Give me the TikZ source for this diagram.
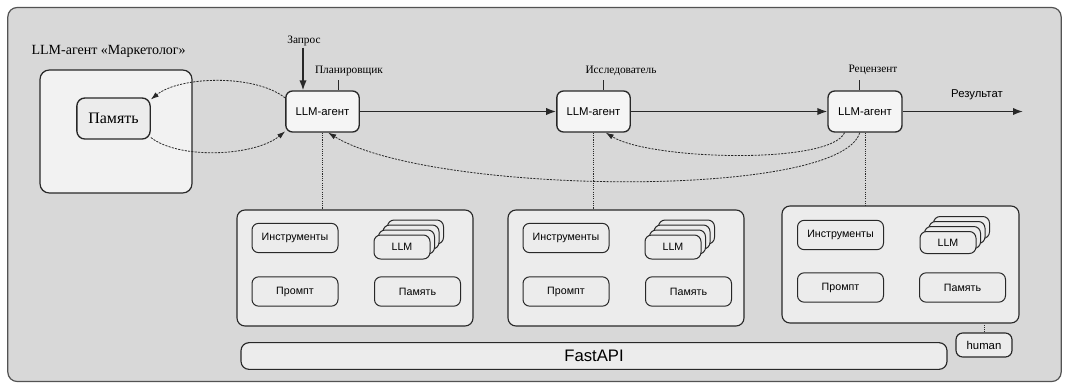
\documentclass[tikz,border=0pt]{standalone}
\usepackage{fontspec}
\setmainfont{Liberation Serif}
\setsansfont{Liberation Sans}
\usetikzlibrary{arrows.meta}
\definecolor{bggray}{RGB}{216,216,216}
\definecolor{boxfill}{RGB}{236,236,236}
\definecolor{agentfill}{RGB}{245,245,245}
\definecolor{linecol}{RGB}{40,40,40}
\begin{document}
\begin{tikzpicture}[x=0.75pt,y=-0.75pt,
  frame/.style={draw=linecol!80, line width=0.9pt, rounded corners=7pt, fill=bggray},
  agent/.style={draw=linecol, line width=1pt, rounded corners=5pt, fill=agentfill,
    minimum width=55pt, minimum height=30.75pt, inner sep=0pt,
    font=\sffamily\fontsize{8.5}{10}\selectfont},
  tool/.style={draw=linecol, line width=0.75pt, rounded corners=5pt, fill=boxfill,
    minimum width=64.5pt, minimum height=22pt, inner sep=0pt,
    font=\sffamily\fontsize{8}{9.6}\selectfont},
  llmbox/.style={draw=linecol, line width=0.75pt, rounded corners=5pt, fill=boxfill,
    minimum width=42pt, minimum height=18pt, inner sep=0pt,
    font=\sffamily\fontsize{8}{9.6}\selectfont},
  group/.style={draw=linecol, line width=0.85pt, rounded corners=6pt, fill=boxfill,
    minimum width=177pt, minimum height=87pt, inner sep=0pt},
  lbl/.style={font=\fontsize{8.5}{10}\selectfont, inner sep=1pt},
  flow/.style={-{Latex[length=7.5pt,width=5.5pt]}, line width=1.1pt, draw=linecol},
  fb/.style={-{Latex[length=6pt,width=4pt]}, dash pattern=on 1.6pt off 0.9pt, line width=0.6pt, draw=linecol},
  link/.style={dash pattern=on 0.8pt off 0.9pt, line width=0.6pt, draw=linecol},
  tick/.style={line width=0.7pt, draw=linecol}]
\useasboundingbox (0,0) rectangle (1065,386);

% outer frame
\node[frame, minimum width=790pt, minimum height=280.5pt, inner sep=0pt] (outer) at (534.5,194.5) {};

% left agent "Marketer"
\node[lbl, font=\fontsize{10.5}{12}\selectfont, anchor=west] (title) at (30,51) {LLM-агент «Маркетолог»};
\node[draw=linecol, line width=0.9pt, rounded corners=7pt, fill=boxfill!70!white,
      minimum width=114pt, minimum height=92.25pt, inner sep=0pt] (leftbox) at (116,131.5) {};
\node[draw=linecol, line width=1pt, rounded corners=6pt, fill=boxfill,
      minimum width=55pt, minimum height=30.75pt, inner sep=0pt,
      font=\fontsize{12}{14}\selectfont] (mem) at (113.5,118.5) {Память};

% agents
\node[agent] (pl) at (322.5,111.5) {LLM-агент};
\node[agent] (re) at (593.5,111.5) {LLM-агент};
\node[agent, minimum width=55.5pt] (rv) at (865,111.5) {LLM-агент};

% labels
\node[lbl] (zap) at (304,41) {Запрос};
\node[lbl] (plab) at (349,71) {Планировщик};
\node[lbl] (rlab) at (621,71) {Исследователь};
\node[lbl] (vlab) at (873,70) {Рецензент};
\node[lbl, font=\sffamily\fontsize{8.5}{10}\selectfont] (reslab) at (977,95) {Результат};

\coordinate (plt) at (338,80);
\coordinate (ret) at (603,80);
\coordinate (rvt) at (859,80);
\coordinate (resend) at (1023,111.5);

\draw[tick] (plt) -- (plt |- pl.north);
\draw[tick] (ret) -- (ret |- re.north);
\draw[tick] (rvt) -- (rvt |- rv.north);

% main flow
\draw[flow] (zap.south -| 303,0) -- (303,0 |- pl.north);
\draw[flow] (pl.east) -- (re.west);
\draw[flow] (re.east) -- (rv.west);
\draw[flow] (rv.east) -- (resend);

% memory loop
\draw[fb] (pl.160) .. controls (255,74) and (180,76) .. (mem.27);
\draw[fb] (mem.-27) .. controls (180,160) and (255,156) .. (pl.208);

% feedback
\draw[fb] (rv.226) .. controls (830,165) and (650,160) .. (re.-60);
\draw[fb] (rv.256) .. controls (840,200) and (430,195) .. (pl.-75);

% tool groups
\node[group] (g1) at (355,268) {};
\node[group] (g2) at (626,268) {};
\node[group, minimum width=177.75pt, minimum height=87.75pt] (g3) at (900.5,264.5) {};

\draw[link] (pl.south) -- (pl.south |- g1.north);
\draw[link] (re.south) -- (re.south |- g2.north);
\draw[link] (rv.south) -- (rv.south |- g3.north);

% group 1
\node[tool] (i1) at (295,238) {Инструменты};
\node[tool] (p1) at (295,291.5) {Промпт};
\node[tool] (m1) at (417.5,291.5) {Память};
\node[llmbox] (l1c) at (415.5,232) {};
\node[llmbox] (l1b) at (411,237) {};
\node[llmbox] (l1a) at (406.5,242) {};
\node[llmbox] (l1) at (402,247) {LLM};

% group 2
\node[tool] (i2) at (566,238) {Инструменты};
\node[tool] (p2) at (566,291.5) {Промпт};
\node[tool] (m2) at (688.5,291.5) {Память};
\node[llmbox] (l2c) at (686.5,232) {};
\node[llmbox] (l2b) at (682,237) {};
\node[llmbox] (l2a) at (677.5,242) {};
\node[llmbox] (l2) at (673,247) {LLM};

% group 3
\node[tool] (i3) at (840.5,235) {Инструменты};
\node[tool] (p3) at (840.5,287.5) {Промпт};
\node[tool] (m3) at (962.5,287.5) {Память};
\node[llmbox, minimum height=16.5pt] (l3c) at (961.5,227.5) {};
\node[llmbox, minimum height=16.5pt] (l3b) at (957,232.5) {};
\node[llmbox, minimum height=16.5pt] (l3a) at (952.5,237.5) {};
\node[llmbox, minimum height=16.5pt] (l3) at (948,242.5) {LLM};

% FastAPI and human
\node[draw=linecol, line width=0.85pt, rounded corners=6pt, fill=boxfill,
      minimum width=529.5pt, minimum height=20pt, inner sep=0pt,
      font=\sffamily\fontsize{12.5}{14}\selectfont] (api) at (594,356) {FastAPI};
\node[draw=linecol, line width=0.85pt, rounded corners=5pt, fill=boxfill,
      minimum width=42pt, minimum height=18pt, inner sep=0pt,
      font=\sffamily\fontsize{8.5}{10}\selectfont] (hum) at (984,345) {human};
\draw[link] (hum.north) -- (hum.north |- g3.south);
\end{tikzpicture}
\end{document}
